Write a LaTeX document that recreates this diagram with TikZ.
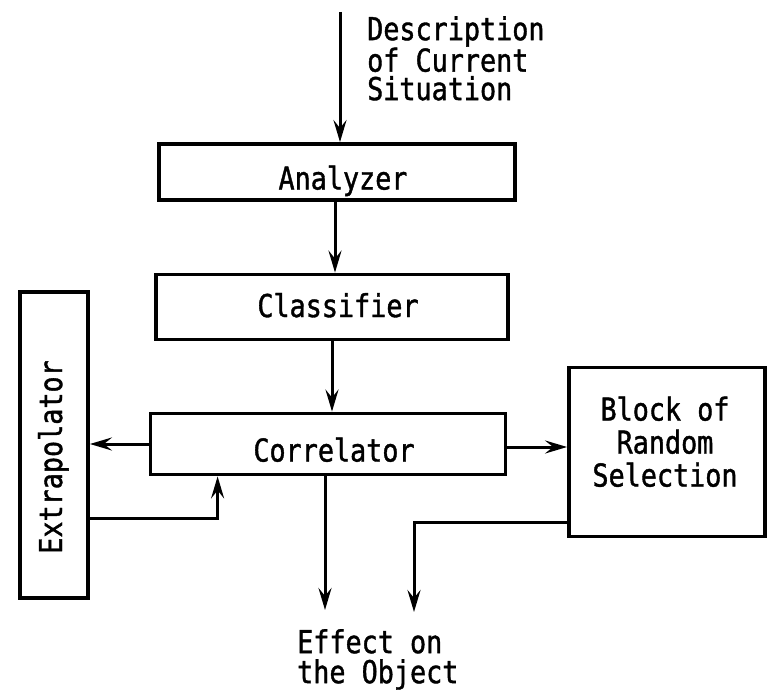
\documentclass[tikz,border=0pt]{standalone}
\usepackage{fontspec}
\usetikzlibrary{arrows.meta}
\newfontfamily\monofont[FakeStretch=0.85,FakeBold=1.2]{DejaVu Sans Mono}

\begin{document}
\begin{tikzpicture}[x=1pt,y=-1pt,
  box/.style={draw, line width=3.8pt, inner sep=0pt},
  lbl/.style={font=\monofont\fontsize{31.5}{33}\selectfont, inner sep=0pt, text depth=0pt, align=center},
  link/.style={line width=3pt, -{Stealth[length=22pt,width=13pt,inset=8pt]}},
  caption/.style={font=\monofont\fontsize{31.5}{29}\selectfont, inner sep=0pt, align=left}]
\useasboundingbox (0,0) rectangle (770,692);

% blocks
\node[box, minimum width=356pt, minimum height=56pt,
      label={[lbl, xshift=6pt, yshift=-5.5pt]center:Analyzer}] (analyzer) at (337,172) {};
\node[box, minimum width=352pt, minimum height=65pt,
      label={[lbl, xshift=6pt, yshift=2pt]center:Classifier}] (classifier) at (332,307) {};
\node[box, minimum width=355pt, minimum height=61pt,
      label={[lbl, xshift=6pt, yshift=-5.5pt]center:Correlator}] (correlator) at (328,444) {};
\node[box, minimum width=68pt, minimum height=306pt,
      label={[lbl, rotate=90, xshift=-12pt, yshift=4pt]center:Extrapolator}] (extrap) at (54,445) {};
\node[box, minimum width=196pt, minimum height=169pt,
      label={[lbl, xshift=-2pt, yshift=10.5pt]center:Block of\\Random\\Selection}] (block) at (667,452) {};

% captions
\node[caption, anchor=north west, font=\monofont\fontsize{31.5}{28.5}\selectfont]
  (desc) at (367,16) {Description\\of Current\\Situation};
\node[caption, anchor=north west, font=\monofont\fontsize{31.5}{30}\selectfont]
  (effect) at (297,629) {Effect on\\the Object};

% free ends
\coordinate (src) at (340,12);
\coordinate (out1) at (325,610);
\coordinate (out2) at (414,612);

% connectors
\draw[link] (src) -- (src |- analyzer.north);
\draw[link] ([xshift=-2pt]analyzer.south) -- ([xshift=-2pt]analyzer.south |- classifier.north);
\draw[link] (classifier.south) -- (classifier.south |- correlator.north);
\draw[link] (correlator.west) -- (correlator.west -| extrap.east);
\draw[link] ([yshift=-3pt]correlator.east) -- ([yshift=-3pt]correlator.east -| block.west);
\draw[link] ([yshift=-73pt]extrap.east) -| ([xshift=69pt]correlator.south west);
\draw[link] (out1 |- correlator.south) -- (out1);
\draw[link] ([yshift=-70pt]block.west) -| (out2);
\end{tikzpicture}
\end{document}
